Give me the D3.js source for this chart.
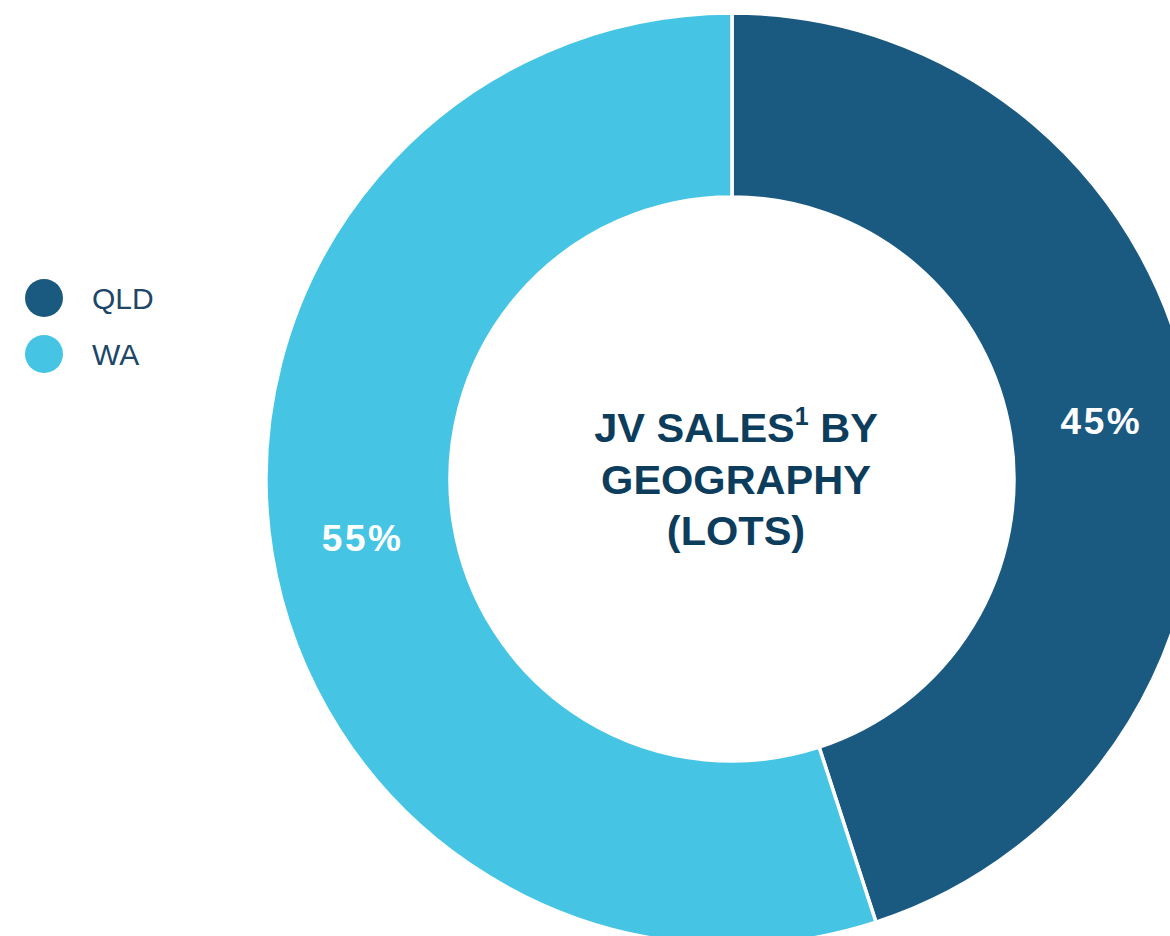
<!DOCTYPE html>
<html><head><meta charset="utf-8">
<script src="https://cdn.jsdelivr.net/npm/d3@7"></script>
<style>html,body{margin:0;padding:0;background:#fff;}svg{display:block;}</style>
</head><body>
<script>
const categories = ["QLD", "WA"];
const values = [45, 55];
const labels = ["45%", "55%"];
const colors = ["#1B5A80", "#45C5E3"];
const titleLines = ["JV SALES", "GEOGRAPHY", "(LOTS)"];

const W = 1170, H = 936;
const cx = 732, cy = 479, rOuter = 466, rInner = 282;
const svg = d3.select("body").append("svg").attr("width", W).attr("height", H);
const g = svg.append("g").attr("transform", `translate(${cx},${cy})`);

const color = d3.scaleOrdinal().domain(categories).range(colors);
const pie = d3.pie().sort(null).value(d => d.v);
const data = pie(categories.map((c, i) => ({c, v: values[i], l: labels[i]})));
const arc = d3.arc().innerRadius(rInner).outerRadius(rOuter);

g.selectAll("path").data(data).join("path")
  .attr("d", arc).attr("fill", d => color(d.data.c))
  .attr("stroke", "#fff").attr("stroke-width", 3.5);

g.selectAll("text.lbl").data(data).join("text").attr("class", "lbl")
  .attr("transform", d => `translate(${arc.centroid(d)})`)
  .attr("text-anchor", "middle").attr("dy", "0.36em")
  .style("font-family", "'Liberation Sans', Arial, sans-serif")
  .style("font-weight", "bold").style("font-size", "37px")
  .style("letter-spacing", "2.5px")
  .attr("fill", "#fff").text(d => d.data.l);

// center title
const t = g.append("text").attr("text-anchor", "middle")
  .attr("transform", "translate(4,0)")
  .style("font-family", "'Liberation Sans', Arial, sans-serif")
  .style("font-weight", "bold").style("font-size", "41.5px").attr("fill", "#0D3D5C");
const l1 = t.append("tspan").attr("x", 0).attr("y", -37);
l1.append("tspan").text(titleLines[0]);
l1.append("tspan").text("1").attr("dy", -17).style("font-size", "25px");
l1.append("tspan").text(" BY").attr("dy", 17);
t.append("tspan").attr("x", 0).attr("y", 15).text(titleLines[1]);
t.append("tspan").attr("x", 0).attr("y", 66).text(titleLines[2]);

// legend
const lg = svg.append("g").selectAll("g").data(categories).join("g")
  .attr("transform", (d, i) => `translate(44,${298 + i * 56})`);
lg.append("circle").attr("r", 19).attr("fill", d => color(d));
lg.append("text").attr("x", 48).attr("dy", "0.36em")
  .style("font-family", "'Liberation Sans', Arial, sans-serif")
  .style("font-size", "30px").attr("fill", "#1E4666").text(d => d);
</script>
</body></html>
